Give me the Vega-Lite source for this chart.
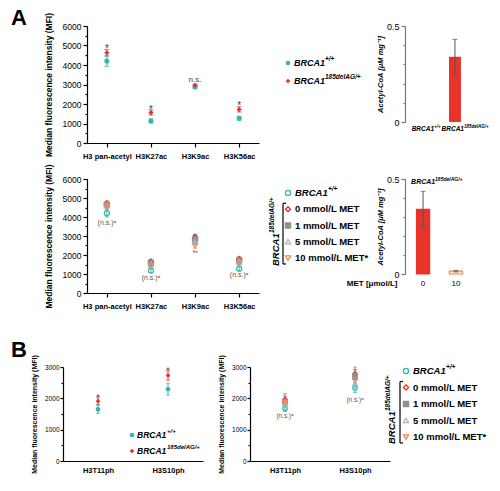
{
  "$schema": "https://vega.github.io/schema/vega-lite/v6.json",
  "background": "white",
  "autosize": {"type": "pad"},
  "padding": {"left": 11, "top": 7, "right": 2, "bottom": 2},
  "config": {
    "view": {"stroke": null},
    "font": "Liberation Sans",
    "axis": {"domainColor": "#000", "tickColor": "#000", "labelColor": "#000", "titleColor": "#000", "grid": false, "domainWidth": 1.2, "tickWidth": 1.2, "labelFont": "Liberation Sans", "titleFont": "Liberation Sans", "labelOverlap": false, "labelBound": false, "labelFlush": false},
    "title": {"font": "Liberation Sans", "color": "#000"},
    "text": {"font": "Liberation Sans"}
  },
  "datasets": {
    "a1": [
      {"mark": "H3 pan-acetyl", "group": "WT", "mfi": 4200, "lo": 3930, "hi": 4450},
      {"mark": "H3 pan-acetyl", "group": "mut", "mfi": 4630, "lo": 4470, "hi": 4800},
      {"mark": "H3K27ac", "group": "WT", "mfi": 1130, "lo": 1030, "hi": 1240},
      {"mark": "H3K27ac", "group": "mut", "mfi": 1560, "lo": 1430, "hi": 1700},
      {"mark": "H3K9ac", "group": "WT", "mfi": 2870, "lo": 2810, "hi": 2930},
      {"mark": "H3K9ac", "group": "mut", "mfi": 2960, "lo": 2900, "hi": 3020},
      {"mark": "H3K56ac", "group": "WT", "mfi": 1270, "lo": 1170, "hi": 1380},
      {"mark": "H3K56ac", "group": "mut", "mfi": 1720, "lo": 1590, "hi": 1860}
    ],
    "a1ann": [
      {"mark": "H3 pan-acetyl", "y": 5000, "text": "*"},
      {"mark": "H3K27ac", "y": 1850, "text": "*"},
      {"mark": "H3K9ac", "y": 3250, "text": "n.s."},
      {"mark": "H3K56ac", "y": 2050, "text": "*"}
    ],
    "a2": [
      {"mark": "H3 pan-acetyl", "group": "WT", "mfi": 4200, "lo": 4000, "hi": 4400},
      {"mark": "H3 pan-acetyl", "group": "0 mM", "mfi": 4700, "lo": 4560, "hi": 4850},
      {"mark": "H3 pan-acetyl", "group": "1 mM", "mfi": 4650, "lo": 4500, "hi": 4800},
      {"mark": "H3 pan-acetyl", "group": "5 mM", "mfi": 4600, "lo": 4450, "hi": 4750},
      {"mark": "H3 pan-acetyl", "group": "10 mM", "mfi": 4550, "lo": 4400, "hi": 4700},
      {"mark": "H3K27ac", "group": "WT", "mfi": 1180, "lo": 1080, "hi": 1280},
      {"mark": "H3K27ac", "group": "0 mM", "mfi": 1650, "lo": 1520, "hi": 1780},
      {"mark": "H3K27ac", "group": "1 mM", "mfi": 1580, "lo": 1460, "hi": 1700},
      {"mark": "H3K27ac", "group": "5 mM", "mfi": 1500, "lo": 1390, "hi": 1620},
      {"mark": "H3K27ac", "group": "10 mM", "mfi": 1430, "lo": 1320, "hi": 1540},
      {"mark": "H3K9ac", "group": "WT", "mfi": 2880, "lo": 2780, "hi": 2980},
      {"mark": "H3K9ac", "group": "0 mM", "mfi": 2960, "lo": 2860, "hi": 3060},
      {"mark": "H3K9ac", "group": "1 mM", "mfi": 2830, "lo": 2730, "hi": 2930},
      {"mark": "H3K9ac", "group": "5 mM", "mfi": 2700, "lo": 2600, "hi": 2800},
      {"mark": "H3K9ac", "group": "10 mM", "mfi": 2480, "lo": 2360, "hi": 2600},
      {"mark": "H3K56ac", "group": "WT", "mfi": 1280, "lo": 1180, "hi": 1380},
      {"mark": "H3K56ac", "group": "0 mM", "mfi": 1800, "lo": 1690, "hi": 1900},
      {"mark": "H3K56ac", "group": "1 mM", "mfi": 1720, "lo": 1610, "hi": 1830},
      {"mark": "H3K56ac", "group": "5 mM", "mfi": 1640, "lo": 1530, "hi": 1750},
      {"mark": "H3K56ac", "group": "10 mM", "mfi": 1560, "lo": 1450, "hi": 1670}
    ],
    "a2ann": [
      {"mark": "H3 pan-acetyl", "y": 3700, "text": "(n.s.)ᵃ"},
      {"mark": "H3K27ac", "y": 800, "text": "(n.s.)ᵃ"},
      {"mark": "H3K9ac", "y": 2100, "text": "*ᵃ"},
      {"mark": "H3K56ac", "y": 970, "text": "(n.s.)ᵃ"}
    ],
    "b1": [
      {"mark": "H3T11ph", "group": "WT", "mfi": 1650, "lo": 1520, "hi": 1790},
      {"mark": "H3T11ph", "group": "mut", "mfi": 1910, "lo": 1790, "hi": 2040},
      {"mark": "H3S10ph", "group": "WT", "mfi": 2290, "lo": 2100, "hi": 2480},
      {"mark": "H3S10ph", "group": "mut", "mfi": 2730, "lo": 2580, "hi": 2890}
    ],
    "b1ann": [
      {"mark": "H3T11ph", "y": 2150, "text": "*"},
      {"mark": "H3S10ph", "y": 3000, "text": "*"}
    ],
    "b2": [
      {"mark": "H3T11ph", "group": "WT", "mfi": 1680, "lo": 1580, "hi": 1780},
      {"mark": "H3T11ph", "group": "0 mM", "mfi": 1960, "lo": 1850, "hi": 2070},
      {"mark": "H3T11ph", "group": "1 mM", "mfi": 1900, "lo": 1780, "hi": 2150},
      {"mark": "H3T11ph", "group": "5 mM", "mfi": 1830, "lo": 1720, "hi": 1940},
      {"mark": "H3T11ph", "group": "10 mM", "mfi": 1870, "lo": 1760, "hi": 1980},
      {"mark": "H3S10ph", "group": "WT", "mfi": 2330, "lo": 2180, "hi": 2480},
      {"mark": "H3S10ph", "group": "0 mM", "mfi": 2780, "lo": 2640, "hi": 2920},
      {"mark": "H3S10ph", "group": "1 mM", "mfi": 2680, "lo": 2540, "hi": 3000},
      {"mark": "H3S10ph", "group": "5 mM", "mfi": 2480, "lo": 2340, "hi": 2620},
      {"mark": "H3S10ph", "group": "10 mM", "mfi": 2600, "lo": 2460, "hi": 2740}
    ],
    "b2ann": [
      {"mark": "H3T11ph", "y": 1440, "text": "(n.s.)ᵃ"},
      {"mark": "H3S10ph", "y": 1940, "text": "(n.s.)ᵃ"}
    ],
    "barA1": [
      {"genotype": "WT", "label": "BRCA1", "sup": "+/+", "value": 0},
      {"genotype": "mut", "label": "BRCA1", "sup": "185delAG/+", "value": 0.34, "lo": 0.25, "hi": 0.43}
    ],
    "barA2": [
      {"met": "0", "value": 0.34, "lo": 0.25, "hi": 0.435},
      {"met": "10", "value": 0.015, "lo": 0.011, "hi": 0.019}
    ],
    "legA1": [
      {"group": "WT", "label": "BRCA1", "sup": "+/+"},
      {"group": "mut", "label": "BRCA1", "sup": "185delAG/+"}
    ],
    "legMET": [
      {"group": "WT", "label": "BRCA1", "sup": "+/+"},
      {"group": "0 mM", "label": "0 mmol/L MET", "sup": ""},
      {"group": "1 mM", "label": "1 mmol/L MET", "sup": ""},
      {"group": "5 mM", "label": "5 mmol/L MET", "sup": ""},
      {"group": "10 mM", "label": "10 mmol/L MET*", "sup": ""}
    ]
  },
  "columns": 3,
  "align": "each",
  "bounds": "flush",
  "spacing": {"row": 36, "column": 0},
  "concat": [
    {
      "width": 196, "height": 117,
      "title": {"text": "A", "anchor": "start", "frame": "group", "dx": -52, "dy": 35, "offset": 0, "baseline": "alphabetic", "fontSize": 22, "fontWeight": "bold"},
      "data": {"name": "a1"},
      "encoding": {
        "x": {"field": "mark", "type": "nominal", "sort": ["H3 pan-acetyl", "H3K27ac", "H3K9ac", "H3K56ac"], "scale": {"type": "point", "padding": 0.45, "range": [24, 196]},
          "axis": {"title": null, "labelAngle": 0, "labelFontWeight": "bold", "labelFontSize": 7.5, "labelPadding": 5, "tickSize": 4}}
      },
      "layer": [
        {"mark": {"type": "errorbar", "ticks": {"size": 5}, "thickness": 1},
         "encoding": {
           "y": {"field": "lo", "type": "quantitative", "scale": {"domain": [0, 6000]}, "title": "Median fluorescence intensity (MFI)",
             "axis": {"offset": -24, "values": [0, 500, 1000, 1500, 2000, 2500, 3000, 3500, 4000, 4500, 5000, 5500, 6000], "format": "d", "labelExpr": "datum.value % 1000 === 0 ? datum.label : ''", "labelOverlap": false, "tickSize": {"condition": {"test": "datum.value % 1000 === 0", "value": 4}, "value": 2}, "labelFontSize": 8.5, "labelPadding": 2, "titleFontSize": 8.5, "titleFontWeight": "bold", "titlePadding": 9}},
           "y2": {"field": "hi"},
           "color": {"field": "group", "type": "nominal", "scale": {"domain": ["WT", "mut", "0 mM", "1 mM", "5 mM", "10 mM"], "range": ["#35b7ab", "#e8332b", "#e8332b", "#8f8f8f", "#a7b5c6", "#f3884e"]}, "legend": null}
         }},
        {"mark": {"type": "point", "filled": true, "size": 26, "opacity": 1},
         "encoding": {
           "y": {"field": "mfi", "type": "quantitative", "scale": {"domain": [0, 6000]}, "title": "Median fluorescence intensity (MFI)",
             "axis": {"offset": -24, "values": [0, 500, 1000, 1500, 2000, 2500, 3000, 3500, 4000, 4500, 5000, 5500, 6000], "format": "d", "labelExpr": "datum.value % 1000 === 0 ? datum.label : ''", "labelOverlap": false, "tickSize": {"condition": {"test": "datum.value % 1000 === 0", "value": 4}, "value": 2}, "labelFontSize": 8.5, "labelPadding": 2, "titleFontSize": 8.5, "titleFontWeight": "bold", "titlePadding": 9}},
           "color": {"field": "group", "type": "nominal", "scale": {"domain": ["WT", "mut", "0 mM", "1 mM", "5 mM", "10 mM"], "range": ["#35b7ab", "#e8332b", "#e8332b", "#8f8f8f", "#a7b5c6", "#f3884e"]}, "legend": null},
           "shape": {"field": "group", "type": "nominal", "scale": {"domain": ["WT", "mut", "0 mM", "1 mM", "5 mM", "10 mM"], "range": ["circle", "diamond", "diamond", "square", "triangle-up", "triangle-down"]}, "legend": null}
         }},
        {"data": {"name": "a1ann"}, "transform": [{"filter": "datum.text === '*'"}],
         "mark": {"type": "text", "fontSize": 10, "color": "#444", "baseline": "middle", "dy": 3},
         "encoding": {"y": {"field": "y", "type": "quantitative", "scale": {"domain": [0, 6000]}, "title": "Median fluorescence intensity (MFI)",
             "axis": {"offset": -24, "values": [0, 500, 1000, 1500, 2000, 2500, 3000, 3500, 4000, 4500, 5000, 5500, 6000], "format": "d", "labelExpr": "datum.value % 1000 === 0 ? datum.label : ''", "labelOverlap": false, "tickSize": {"condition": {"test": "datum.value % 1000 === 0", "value": 4}, "value": 2}, "labelFontSize": 8.5, "labelPadding": 2, "titleFontSize": 8.5, "titleFontWeight": "bold", "titlePadding": 9}}, "text": {"field": "text"}}},
        {"data": {"name": "a1ann"}, "transform": [{"filter": "datum.text !== '*'"}],
         "mark": {"type": "text", "fontSize": 8, "color": "#444", "baseline": "middle"},
         "encoding": {"y": {"field": "y", "type": "quantitative", "scale": {"domain": [0, 6000]}, "title": "Median fluorescence intensity (MFI)",
             "axis": {"offset": -24, "values": [0, 500, 1000, 1500, 2000, 2500, 3000, 3500, 4000, 4500, 5000, 5500, 6000], "format": "d", "labelExpr": "datum.value % 1000 === 0 ? datum.label : ''", "labelOverlap": false, "tickSize": {"condition": {"test": "datum.value % 1000 === 0", "value": 4}, "value": 2}, "labelFontSize": 8.5, "labelPadding": 2, "titleFontSize": 8.5, "titleFontWeight": "bold", "titlePadding": 9}}, "text": {"field": "text"}}}
      ]
    },
    {
      "width": 146, "height": 117,
      "data": {"name": "legA1"},
      "encoding": {
        "x": {"datum": 29, "type": "quantitative", "scale": {"domain": [0, 146], "nice": false, "zero": false}, "axis": null},
        "y": {"field": "group", "type": "nominal", "scale": {"type": "point", "domain": ["WT", "mut"], "range": [37, 55], "padding": 0}, "axis": null}
      },
      "layer": [
        {"mark": {"type": "point", "filled": true, "size": 22, "opacity": 1},
         "encoding": {
           "color": {"field": "group", "type": "nominal", "scale": {"domain": ["WT", "mut", "0 mM", "1 mM", "5 mM", "10 mM"], "range": ["#35b7ab", "#e8332b", "#e8332b", "#8f8f8f", "#a7b5c6", "#f3884e"]}, "legend": null},
           "shape": {"field": "group", "type": "nominal", "scale": {"domain": ["WT", "mut", "0 mM", "1 mM", "5 mM", "10 mM"], "range": ["circle", "diamond", "diamond", "square", "triangle-up", "triangle-down"]}, "legend": null}
         }},
        {"mark": {"type": "text", "align": "left", "baseline": "middle", "dx": 6, "fontSize": 9, "fontWeight": "bold", "fontStyle": "italic"}, "encoding": {"text": {"field": "label"}}},
        {"mark": {"type": "text", "align": "left", "baseline": "middle", "dx": 37, "dy": -4, "fontSize": 6.5, "fontWeight": "bold", "fontStyle": "italic"}, "encoding": {"text": {"field": "sup"}}}
      ]
    },
    {
      "width": 70, "height": 96,
      "data": {"name": "barA1"},
      "encoding": {"x": {"field": "genotype", "type": "nominal", "sort": ["WT", "mut"], "scale": {"type": "band", "paddingInner": 0.6, "paddingOuter": 0.47}, "axis": null}},
      "layer": [
        {"mark": {"type": "bar", "color": "#e8332b"},
         "encoding": {"y": {"field": "value", "type": "quantitative", "scale": {"domain": [0, 0.5]}, "title": "Acetyl-CoA [μM mg⁻¹]",
           "axis": {"values": [0, 0.1, 0.2, 0.3, 0.4, 0.5], "format": "~g", "labelExpr": "datum.value === 0 || datum.value === 0.5 ? datum.label : ''", "tickSize": {"condition": {"test": "datum.value === 0 || datum.value === 0.5", "value": 4}, "value": 2}, "domainColor": "#777", "tickColor": "#777", "labelFontSize": 9, "labelPadding": 2, "titleFontSize": 7.5, "titleFontStyle": "italic", "titleFontWeight": "bold", "titlePadding": 2}}}},
        {"transform": [{"filter": "isValid(datum.lo)"}],
         "mark": {"type": "errorbar", "ticks": {"size": 5}, "color": "#555"},
         "encoding": {"y": {"field": "lo", "type": "quantitative", "scale": {"domain": [0, 0.5]}, "title": "Acetyl-CoA [μM mg⁻¹]",
           "axis": {"values": [0, 0.1, 0.2, 0.3, 0.4, 0.5], "format": "~g", "labelExpr": "datum.value === 0 || datum.value === 0.5 ? datum.label : ''", "tickSize": {"condition": {"test": "datum.value === 0 || datum.value === 0.5", "value": 4}, "value": 2}, "domainColor": "#777", "tickColor": "#777", "labelFontSize": 9, "labelPadding": 2, "titleFontSize": 7.5, "titleFontStyle": "italic", "titleFontWeight": "bold", "titlePadding": 2}}, "y2": {"field": "hi"}}},
        {"mark": {"type": "text", "align": "right", "baseline": "middle", "dx": 9, "dy": 7, "fontSize": 6.5, "fontWeight": "bold", "fontStyle": "italic"},
         "encoding": {"y": {"datum": 0, "scale": {"domain": [0, 0.5]}, "title": "Acetyl-CoA [μM mg⁻¹]",
           "axis": {"values": [0, 0.1, 0.2, 0.3, 0.4, 0.5], "format": "~g", "labelExpr": "datum.value === 0 || datum.value === 0.5 ? datum.label : ''", "tickSize": {"condition": {"test": "datum.value === 0 || datum.value === 0.5", "value": 4}, "value": 2}, "domainColor": "#777", "tickColor": "#777", "labelFontSize": 9, "labelPadding": 2, "titleFontSize": 7.5, "titleFontStyle": "italic", "titleFontWeight": "bold", "titlePadding": 2}}, "text": {"field": "label"}}},
        {"mark": {"type": "text", "align": "left", "baseline": "middle", "dx": 9, "dy": 5, "fontSize": 4.5, "fontWeight": "bold", "fontStyle": "italic"},
         "encoding": {"y": {"datum": 0, "scale": {"domain": [0, 0.5]}, "title": "Acetyl-CoA [μM mg⁻¹]",
           "axis": {"values": [0, 0.1, 0.2, 0.3, 0.4, 0.5], "format": "~g", "labelExpr": "datum.value === 0 || datum.value === 0.5 ? datum.label : ''", "tickSize": {"condition": {"test": "datum.value === 0 || datum.value === 0.5", "value": 4}, "value": 2}, "domainColor": "#777", "tickColor": "#777", "labelFontSize": 9, "labelPadding": 2, "titleFontSize": 7.5, "titleFontStyle": "italic", "titleFontWeight": "bold", "titlePadding": 2}}, "text": {"field": "sup"}}}
      ]
    },
    {
      "width": 196, "height": 114,
      "data": {"name": "a2"},
      "encoding": {
        "x": {"field": "mark", "type": "nominal", "sort": ["H3 pan-acetyl", "H3K27ac", "H3K9ac", "H3K56ac"], "scale": {"type": "point", "padding": 0.45, "range": [24, 196]},
          "axis": {"title": null, "labelAngle": 0, "labelFontWeight": "bold", "labelFontSize": 7.5, "labelPadding": 5, "tickSize": 4}}
      },
      "layer": [
        {"mark": {"type": "errorbar", "ticks": {"size": 4}, "thickness": 1},
         "encoding": {
           "y": {"field": "lo", "type": "quantitative", "scale": {"domain": [0, 6000]}, "title": "Median fluorescence intensity (MFI)",
             "axis": {"offset": -24, "values": [0, 500, 1000, 1500, 2000, 2500, 3000, 3500, 4000, 4500, 5000, 5500, 6000], "format": "d", "labelExpr": "datum.value % 1000 === 0 ? datum.label : ''", "labelOverlap": false, "tickSize": {"condition": {"test": "datum.value % 1000 === 0", "value": 4}, "value": 2}, "labelFontSize": 8.5, "labelPadding": 2, "titleFontSize": 8.5, "titleFontWeight": "bold", "titlePadding": 9}},
           "y2": {"field": "hi"},
           "color": {"field": "group", "type": "nominal", "scale": {"domain": ["WT", "mut", "0 mM", "1 mM", "5 mM", "10 mM"], "range": ["#35b7ab", "#e8332b", "#e8332b", "#8f8f8f", "#a7b5c6", "#f3884e"]}, "legend": null}
         }},
        {"mark": {"type": "point", "filled": false, "size": 26, "strokeWidth": 1.2, "opacity": 1},
         "encoding": {
           "y": {"field": "mfi", "type": "quantitative", "scale": {"domain": [0, 6000]}, "title": "Median fluorescence intensity (MFI)",
             "axis": {"offset": -24, "values": [0, 500, 1000, 1500, 2000, 2500, 3000, 3500, 4000, 4500, 5000, 5500, 6000], "format": "d", "labelExpr": "datum.value % 1000 === 0 ? datum.label : ''", "labelOverlap": false, "tickSize": {"condition": {"test": "datum.value % 1000 === 0", "value": 4}, "value": 2}, "labelFontSize": 8.5, "labelPadding": 2, "titleFontSize": 8.5, "titleFontWeight": "bold", "titlePadding": 9}},
           "color": {"field": "group", "type": "nominal", "scale": {"domain": ["WT", "mut", "0 mM", "1 mM", "5 mM", "10 mM"], "range": ["#35b7ab", "#e8332b", "#e8332b", "#8f8f8f", "#a7b5c6", "#f3884e"]}, "legend": null},
           "shape": {"field": "group", "type": "nominal", "scale": {"domain": ["WT", "mut", "0 mM", "1 mM", "5 mM", "10 mM"], "range": ["circle", "diamond", "diamond", "square", "triangle-up", "triangle-down"]}, "legend": null},
           "fill": {"condition": {"test": "datum.group === '1 mM'", "value": "#8f8f8f"}, "value": "transparent"}
         }},
        {"data": {"name": "a2ann"},
         "mark": {"type": "text", "fontSize": 7, "color": "#555", "baseline": "middle"},
         "encoding": {"y": {"field": "y", "type": "quantitative", "scale": {"domain": [0, 6000]}, "title": "Median fluorescence intensity (MFI)",
             "axis": {"offset": -24, "values": [0, 500, 1000, 1500, 2000, 2500, 3000, 3500, 4000, 4500, 5000, 5500, 6000], "format": "d", "labelExpr": "datum.value % 1000 === 0 ? datum.label : ''", "labelOverlap": false, "tickSize": {"condition": {"test": "datum.value % 1000 === 0", "value": 4}, "value": 2}, "labelFontSize": 8.5, "labelPadding": 2, "titleFontSize": 8.5, "titleFontWeight": "bold", "titlePadding": 9}}, "text": {"field": "text"}}}
      ]
    },
    {
      "width": 146, "height": 152,
      "data": {"name": "legMET"},
      "encoding": {
        "x": {"datum": 29, "type": "quantitative", "scale": {"domain": [0, 146], "nice": false, "zero": false}, "axis": null},
        "y": {"field": "group", "type": "nominal", "scale": {"type": "point", "domain": ["WT", "0 mM", "1 mM", "5 mM", "10 mM"], "range": [14, 79], "padding": 0}, "axis": null}
      },
      "layer": [
        {"mark": {"type": "point", "filled": false, "size": 26, "strokeWidth": 1.3, "opacity": 1},
         "encoding": {
           "color": {"field": "group", "type": "nominal", "scale": {"domain": ["WT", "mut", "0 mM", "1 mM", "5 mM", "10 mM"], "range": ["#35b7ab", "#e8332b", "#e8332b", "#8f8f8f", "#a7b5c6", "#f3884e"]}, "legend": null},
           "shape": {"field": "group", "type": "nominal", "scale": {"domain": ["WT", "mut", "0 mM", "1 mM", "5 mM", "10 mM"], "range": ["circle", "diamond", "diamond", "square", "triangle-up", "triangle-down"]}, "legend": null},
           "fill": {"condition": {"test": "datum.group === '1 mM'", "value": "#8f8f8f"}, "value": "transparent"}
         }},
        {"transform": [{"filter": "datum.group === 'WT'"}],
         "mark": {"type": "text", "align": "left", "baseline": "middle", "dx": 7, "fontSize": 9.5, "fontWeight": "bold", "fontStyle": "italic"}, "encoding": {"text": {"field": "label"}}},
        {"transform": [{"filter": "datum.group === 'WT'"}],
         "mark": {"type": "text", "align": "left", "baseline": "middle", "dx": 40, "dy": -4, "fontSize": 6.5, "fontWeight": "bold", "fontStyle": "italic"}, "encoding": {"text": {"field": "sup"}}},
        {"transform": [{"filter": "datum.group !== 'WT'"}],
         "mark": {"type": "text", "align": "left", "baseline": "middle", "dx": 7, "fontSize": 9.5, "fontWeight": "bold"}, "encoding": {"text": {"field": "label"}}},
        {"data": {"values": [{}]},
         "mark": {"type": "rule", "yOffset": -6, "y2Offset": 6, "color": "#000", "strokeWidth": 1.2},
         "encoding": {"x": {"datum": 24, "type": "quantitative"}, "y": {"datum": "0 mM", "type": "nominal"}, "y2": {"datum": "10 mM"}}},
        {"data": {"values": [{}]},
         "mark": {"type": "rule", "yOffset": -6, "color": "#000", "strokeWidth": 1.2},
         "encoding": {"x": {"datum": 24, "type": "quantitative"}, "x2": {"datum": 27}, "y": {"datum": "0 mM", "type": "nominal"}}},
        {"data": {"values": [{}]},
         "mark": {"type": "rule", "yOffset": 6, "color": "#000", "strokeWidth": 1.2},
         "encoding": {"x": {"datum": 24, "type": "quantitative"}, "x2": {"datum": 27}, "y": {"datum": "10 mM", "type": "nominal"}}},
        {"data": {"values": [{}]},
         "mark": {"type": "text", "text": "BRCA1", "angle": 270, "align": "left", "baseline": "middle", "dx": -8, "fontSize": 9.5, "fontWeight": "bold", "fontStyle": "italic"},
         "encoding": {"x": {"datum": 17, "type": "quantitative"}, "y": {"datum": "10 mM", "type": "nominal"}}},
        {"data": {"values": [{}]},
         "mark": {"type": "text", "text": "185delAG/+", "angle": 270, "align": "left", "baseline": "middle", "dx": 25, "dy": -4, "fontSize": 6.5, "fontWeight": "bold", "fontStyle": "italic"},
         "encoding": {"x": {"datum": 17, "type": "quantitative"}, "y": {"datum": "10 mM", "type": "nominal"}}}
      ]
    },
    {
      "width": 69, "height": 95,
      "data": {"name": "barA2"},
      "encoding": {"x": {"field": "met", "type": "nominal", "sort": ["0", "10"], "scale": {"type": "band", "paddingInner": 0.6, "paddingOuter": 0.35},
        "axis": {"title": "MET [μmol/L]", "labelAngle": 0, "labelFontSize": 8, "labelPadding": 5, "ticks": false, "domain": false, "titleX": -8, "titleY": 9, "titleAlign": "right", "titleBaseline": "middle", "titleFontSize": 8, "titleFontWeight": "bold"}}},
      "layer": [
        {"mark": {"type": "bar", "strokeWidth": 1.2},
         "encoding": {
           "y": {"field": "value", "type": "quantitative", "scale": {"domain": [0, 0.5]}, "title": "Acetyl-CoA [μM mg⁻¹]",
             "axis": {"values": [0, 0.1, 0.2, 0.3, 0.4, 0.5], "format": "~g", "labelExpr": "datum.value === 0 || datum.value === 0.5 ? datum.label : ''", "tickSize": {"condition": {"test": "datum.value === 0 || datum.value === 0.5", "value": 4}, "value": 2}, "domainColor": "#777", "tickColor": "#777", "labelFontSize": 9, "labelPadding": 2, "titleFontSize": 7.5, "titleFontStyle": "italic", "titleFontWeight": "bold", "titlePadding": 2}},
           "fill": {"field": "met", "type": "nominal", "scale": {"domain": ["0", "10"], "range": ["#e8332b", "#fde4d4"]}, "legend": null},
           "stroke": {"field": "met", "type": "nominal", "scale": {"domain": ["0", "10"], "range": ["#e8332b", "#f3884e"]}, "legend": null}
         }},
        {"mark": {"type": "errorbar", "ticks": {"size": 5}, "color": "#555"},
         "encoding": {"y": {"field": "lo", "type": "quantitative", "scale": {"domain": [0, 0.5]}, "title": "Acetyl-CoA [μM mg⁻¹]",
             "axis": {"values": [0, 0.1, 0.2, 0.3, 0.4, 0.5], "format": "~g", "labelExpr": "datum.value === 0 || datum.value === 0.5 ? datum.label : ''", "tickSize": {"condition": {"test": "datum.value === 0 || datum.value === 0.5", "value": 4}, "value": 2}, "domainColor": "#777", "tickColor": "#777", "labelFontSize": 9, "labelPadding": 2, "titleFontSize": 7.5, "titleFontStyle": "italic", "titleFontWeight": "bold", "titlePadding": 2}}, "y2": {"field": "hi"}}},
        {"data": {"values": [{}]},
         "mark": {"type": "text", "text": "BRCA1", "align": "left", "baseline": "middle", "dx": -12, "dy": 3, "fontSize": 7, "fontWeight": "bold", "fontStyle": "italic"},
         "encoding": {"x": {"datum": "0"}, "y": {"datum": 0.5, "scale": {"domain": [0, 0.5]}, "title": "Acetyl-CoA [μM mg⁻¹]",
             "axis": {"values": [0, 0.1, 0.2, 0.3, 0.4, 0.5], "format": "~g", "labelExpr": "datum.value === 0 || datum.value === 0.5 ? datum.label : ''", "tickSize": {"condition": {"test": "datum.value === 0 || datum.value === 0.5", "value": 4}, "value": 2}, "domainColor": "#777", "tickColor": "#777", "labelFontSize": 9, "labelPadding": 2, "titleFontSize": 7.5, "titleFontStyle": "italic", "titleFontWeight": "bold", "titlePadding": 2}}}},
        {"data": {"values": [{}]},
         "mark": {"type": "text", "text": "185delAG/+", "align": "left", "baseline": "middle", "dx": 12, "dy": 0, "fontSize": 5, "fontWeight": "bold", "fontStyle": "italic"},
         "encoding": {"x": {"datum": "0"}, "y": {"datum": 0.5, "scale": {"domain": [0, 0.5]}, "title": "Acetyl-CoA [μM mg⁻¹]",
             "axis": {"values": [0, 0.1, 0.2, 0.3, 0.4, 0.5], "format": "~g", "labelExpr": "datum.value === 0 || datum.value === 0.5 ? datum.label : ''", "tickSize": {"condition": {"test": "datum.value === 0 || datum.value === 0.5", "value": 4}, "value": 2}, "domainColor": "#777", "tickColor": "#777", "labelFontSize": 9, "labelPadding": 2, "titleFontSize": 7.5, "titleFontStyle": "italic", "titleFontWeight": "bold", "titlePadding": 2}}}}
      ]
    },
    {
      "width": 196, "height": 94,
      "title": {"text": "B", "anchor": "start", "frame": "group", "dx": -52, "dy": 35, "offset": 11, "baseline": "alphabetic", "fontSize": 22, "fontWeight": "bold"},
      "data": {"name": "b1"},
      "encoding": {
        "x": {"field": "mark", "type": "nominal", "sort": ["H3T11ph", "H3S10ph"], "scale": {"type": "point", "padding": 0.5, "range": [0, 140]},
          "axis": {"title": null, "labelAngle": 0, "labelFontWeight": "bold", "labelFontSize": 7.5, "labelPadding": 5, "ticks": false}}
      },
      "layer": [
        {"mark": {"type": "errorbar", "ticks": {"size": 4}, "thickness": 1},
         "encoding": {
           "y": {"field": "lo", "type": "quantitative", "scale": {"domain": [0, 3000]}, "title": "Median fluorescence intensity (MFI)",
             "axis": {"values": [0, 500, 1000, 1500, 2000, 2500, 3000], "format": "d", "labelExpr": "datum.value % 1000 === 0 ? datum.label : ''", "labelOverlap": false, "tickSize": {"condition": {"test": "datum.value % 1000 === 0", "value": 3}, "value": 2}, "labelFontSize": 6.5, "labelPadding": 1, "titleFontSize": 7, "titleFontWeight": "bold", "titlePadding": 7}},
           "y2": {"field": "hi"},
           "color": {"field": "group", "type": "nominal", "scale": {"domain": ["WT", "mut", "0 mM", "1 mM", "5 mM", "10 mM"], "range": ["#35b7ab", "#e8332b", "#e8332b", "#8f8f8f", "#a7b5c6", "#f3884e"]}, "legend": null}
         }},
        {"mark": {"type": "point", "filled": true, "size": 22, "opacity": 1},
         "encoding": {
           "y": {"field": "mfi", "type": "quantitative", "scale": {"domain": [0, 3000]}, "title": "Median fluorescence intensity (MFI)",
             "axis": {"values": [0, 500, 1000, 1500, 2000, 2500, 3000], "format": "d", "labelExpr": "datum.value % 1000 === 0 ? datum.label : ''", "labelOverlap": false, "tickSize": {"condition": {"test": "datum.value % 1000 === 0", "value": 3}, "value": 2}, "labelFontSize": 6.5, "labelPadding": 1, "titleFontSize": 7, "titleFontWeight": "bold", "titlePadding": 7}},
           "color": {"field": "group", "type": "nominal", "scale": {"domain": ["WT", "mut", "0 mM", "1 mM", "5 mM", "10 mM"], "range": ["#35b7ab", "#e8332b", "#e8332b", "#8f8f8f", "#a7b5c6", "#f3884e"]}, "legend": null},
           "shape": {"field": "group", "type": "nominal", "scale": {"domain": ["WT", "mut", "0 mM", "1 mM", "5 mM", "10 mM"], "range": ["circle", "diamond", "diamond", "square", "triangle-up", "triangle-down"]}, "legend": null}
         }},
        {"data": {"name": "b1ann"},
         "mark": {"type": "text", "fontSize": 9, "color": "#444", "baseline": "middle", "dy": 3},
         "encoding": {"y": {"field": "y", "type": "quantitative", "scale": {"domain": [0, 3000]}, "title": "Median fluorescence intensity (MFI)",
             "axis": {"values": [0, 500, 1000, 1500, 2000, 2500, 3000], "format": "d", "labelExpr": "datum.value % 1000 === 0 ? datum.label : ''", "labelOverlap": false, "tickSize": {"condition": {"test": "datum.value % 1000 === 0", "value": 3}, "value": 2}, "labelFontSize": 6.5, "labelPadding": 1, "titleFontSize": 7, "titleFontWeight": "bold", "titlePadding": 7}}, "text": {"field": "text"}}},
        {"data": {"name": "legA1"}, "transform": [{"filter": "datum.group === 'WT'"}],
         "mark": {"type": "point", "filled": true, "size": 22, "opacity": 1, "xOffset": 34},
         "encoding": {"x": {"datum": "H3T11ph"},
           "y": {"datum": 830, "scale": {"domain": [0, 3000]}, "title": "Median fluorescence intensity (MFI)",
             "axis": {"values": [0, 500, 1000, 1500, 2000, 2500, 3000], "format": "d", "labelExpr": "datum.value % 1000 === 0 ? datum.label : ''", "labelOverlap": false, "tickSize": {"condition": {"test": "datum.value % 1000 === 0", "value": 3}, "value": 2}, "labelFontSize": 6.5, "labelPadding": 1, "titleFontSize": 7, "titleFontWeight": "bold", "titlePadding": 7}},
           "color": {"field": "group", "type": "nominal", "scale": {"domain": ["WT", "mut", "0 mM", "1 mM", "5 mM", "10 mM"], "range": ["#35b7ab", "#e8332b", "#e8332b", "#8f8f8f", "#a7b5c6", "#f3884e"]}, "legend": null},
           "shape": {"field": "group", "type": "nominal", "scale": {"domain": ["WT", "mut", "0 mM", "1 mM", "5 mM", "10 mM"], "range": ["circle", "diamond", "diamond", "square", "triangle-up", "triangle-down"]}, "legend": null}}},
        {"data": {"name": "legA1"}, "transform": [{"filter": "datum.group === 'mut'"}],
         "mark": {"type": "point", "filled": true, "size": 22, "opacity": 1, "xOffset": 34},
         "encoding": {"x": {"datum": "H3T11ph"},
           "y": {"datum": 320, "scale": {"domain": [0, 3000]}, "title": "Median fluorescence intensity (MFI)",
             "axis": {"values": [0, 500, 1000, 1500, 2000, 2500, 3000], "format": "d", "labelExpr": "datum.value % 1000 === 0 ? datum.label : ''", "labelOverlap": false, "tickSize": {"condition": {"test": "datum.value % 1000 === 0", "value": 3}, "value": 2}, "labelFontSize": 6.5, "labelPadding": 1, "titleFontSize": 7, "titleFontWeight": "bold", "titlePadding": 7}},
           "color": {"field": "group", "type": "nominal", "scale": {"domain": ["WT", "mut", "0 mM", "1 mM", "5 mM", "10 mM"], "range": ["#35b7ab", "#e8332b", "#e8332b", "#8f8f8f", "#a7b5c6", "#f3884e"]}, "legend": null},
           "shape": {"field": "group", "type": "nominal", "scale": {"domain": ["WT", "mut", "0 mM", "1 mM", "5 mM", "10 mM"], "range": ["circle", "diamond", "diamond", "square", "triangle-up", "triangle-down"]}, "legend": null}}},
        {"data": {"name": "legA1"}, "transform": [{"filter": "datum.group === 'WT'"}],
         "mark": {"type": "text", "align": "left", "baseline": "middle", "dx": 39, "fontSize": 8.5, "fontWeight": "bold", "fontStyle": "italic"},
         "encoding": {"x": {"datum": "H3T11ph"},
           "y": {"datum": 830, "scale": {"domain": [0, 3000]}, "title": "Median fluorescence intensity (MFI)",
             "axis": {"values": [0, 500, 1000, 1500, 2000, 2500, 3000], "format": "d", "labelExpr": "datum.value % 1000 === 0 ? datum.label : ''", "labelOverlap": false, "tickSize": {"condition": {"test": "datum.value % 1000 === 0", "value": 3}, "value": 2}, "labelFontSize": 6.5, "labelPadding": 1, "titleFontSize": 7, "titleFontWeight": "bold", "titlePadding": 7}},
           "text": {"field": "label"}}},
        {"data": {"name": "legA1"}, "transform": [{"filter": "datum.group === 'mut'"}],
         "mark": {"type": "text", "align": "left", "baseline": "middle", "dx": 39, "fontSize": 8.5, "fontWeight": "bold", "fontStyle": "italic"},
         "encoding": {"x": {"datum": "H3T11ph"},
           "y": {"datum": 320, "scale": {"domain": [0, 3000]}, "title": "Median fluorescence intensity (MFI)",
             "axis": {"values": [0, 500, 1000, 1500, 2000, 2500, 3000], "format": "d", "labelExpr": "datum.value % 1000 === 0 ? datum.label : ''", "labelOverlap": false, "tickSize": {"condition": {"test": "datum.value % 1000 === 0", "value": 3}, "value": 2}, "labelFontSize": 6.5, "labelPadding": 1, "titleFontSize": 7, "titleFontWeight": "bold", "titlePadding": 7}},
           "text": {"field": "label"}}},
        {"data": {"name": "legA1"}, "transform": [{"filter": "datum.group === 'WT'"}],
         "mark": {"type": "text", "align": "left", "baseline": "middle", "dx": 69, "dy": -3.5, "fontSize": 6, "fontWeight": "bold", "fontStyle": "italic"},
         "encoding": {"x": {"datum": "H3T11ph"},
           "y": {"datum": 830, "scale": {"domain": [0, 3000]}, "title": "Median fluorescence intensity (MFI)",
             "axis": {"values": [0, 500, 1000, 1500, 2000, 2500, 3000], "format": "d", "labelExpr": "datum.value % 1000 === 0 ? datum.label : ''", "labelOverlap": false, "tickSize": {"condition": {"test": "datum.value % 1000 === 0", "value": 3}, "value": 2}, "labelFontSize": 6.5, "labelPadding": 1, "titleFontSize": 7, "titleFontWeight": "bold", "titlePadding": 7}},
           "text": {"field": "sup"}}},
        {"data": {"name": "legA1"}, "transform": [{"filter": "datum.group === 'mut'"}],
         "mark": {"type": "text", "align": "left", "baseline": "middle", "dx": 69, "dy": -3.5, "fontSize": 6, "fontWeight": "bold", "fontStyle": "italic"},
         "encoding": {"x": {"datum": "H3T11ph"},
           "y": {"datum": 320, "scale": {"domain": [0, 3000]}, "title": "Median fluorescence intensity (MFI)",
             "axis": {"values": [0, 500, 1000, 1500, 2000, 2500, 3000], "format": "d", "labelExpr": "datum.value % 1000 === 0 ? datum.label : ''", "labelOverlap": false, "tickSize": {"condition": {"test": "datum.value % 1000 === 0", "value": 3}, "value": 2}, "labelFontSize": 6.5, "labelPadding": 1, "titleFontSize": 7, "titleFontWeight": "bold", "titlePadding": 7}},
           "text": {"field": "sup"}}}
      ]
    },
    {
      "width": 146, "height": 94,
      "data": {"name": "b2"},
      "encoding": {
        "x": {"field": "mark", "type": "nominal", "sort": ["H3T11ph", "H3S10ph"], "scale": {"type": "point", "padding": 0.5, "range": [-9, 131]},
          "axis": {"title": null, "labelAngle": 0, "labelFontWeight": "bold", "labelFontSize": 7.5, "labelPadding": 5, "ticks": false}}
      },
      "layer": [
        {"mark": {"type": "errorbar", "ticks": {"size": 4}, "thickness": 1},
         "encoding": {
           "y": {"field": "lo", "type": "quantitative", "scale": {"domain": [0, 3000]}, "title": "Median fluorescence intensity (MFI)",
             "axis": {"offset": 9, "values": [0, 500, 1000, 1500, 2000, 2500, 3000], "format": "d", "labelExpr": "datum.value % 1000 === 0 ? datum.label : ''", "labelOverlap": false, "tickSize": {"condition": {"test": "datum.value % 1000 === 0", "value": 3}, "value": 2}, "labelFontSize": 6.5, "labelPadding": 1, "titleFontSize": 7, "titleFontWeight": "bold", "titlePadding": 7}},
           "y2": {"field": "hi"},
           "color": {"field": "group", "type": "nominal", "scale": {"domain": ["WT", "mut", "0 mM", "1 mM", "5 mM", "10 mM"], "range": ["#35b7ab", "#e8332b", "#e8332b", "#8f8f8f", "#a7b5c6", "#f3884e"]}, "legend": null}
         }},
        {"mark": {"type": "point", "filled": false, "size": 22, "strokeWidth": 1.2, "opacity": 1},
         "encoding": {
           "y": {"field": "mfi", "type": "quantitative", "scale": {"domain": [0, 3000]}, "title": "Median fluorescence intensity (MFI)",
             "axis": {"offset": 9, "values": [0, 500, 1000, 1500, 2000, 2500, 3000], "format": "d", "labelExpr": "datum.value % 1000 === 0 ? datum.label : ''", "labelOverlap": false, "tickSize": {"condition": {"test": "datum.value % 1000 === 0", "value": 3}, "value": 2}, "labelFontSize": 6.5, "labelPadding": 1, "titleFontSize": 7, "titleFontWeight": "bold", "titlePadding": 7}},
           "color": {"field": "group", "type": "nominal", "scale": {"domain": ["WT", "mut", "0 mM", "1 mM", "5 mM", "10 mM"], "range": ["#35b7ab", "#e8332b", "#e8332b", "#8f8f8f", "#a7b5c6", "#f3884e"]}, "legend": null},
           "shape": {"field": "group", "type": "nominal", "scale": {"domain": ["WT", "mut", "0 mM", "1 mM", "5 mM", "10 mM"], "range": ["circle", "diamond", "diamond", "square", "triangle-up", "triangle-down"]}, "legend": null},
           "fill": {"condition": {"test": "datum.group === '1 mM'", "value": "#8f8f8f"}, "value": "transparent"}
         }},
        {"data": {"name": "b2ann"},
         "mark": {"type": "text", "fontSize": 6.5, "color": "#555", "baseline": "middle"},
         "encoding": {"y": {"field": "y", "type": "quantitative", "scale": {"domain": [0, 3000]}, "title": "Median fluorescence intensity (MFI)",
             "axis": {"offset": 9, "values": [0, 500, 1000, 1500, 2000, 2500, 3000], "format": "d", "labelExpr": "datum.value % 1000 === 0 ? datum.label : ''", "labelOverlap": false, "tickSize": {"condition": {"test": "datum.value % 1000 === 0", "value": 3}, "value": 2}, "labelFontSize": 6.5, "labelPadding": 1, "titleFontSize": 7, "titleFontWeight": "bold", "titlePadding": 7}}, "text": {"field": "text"}}}
      ]
    },
    {
      "width": 95, "height": 94,
      "data": {"name": "legMET"},
      "encoding": {
        "x": {"datum": 1, "type": "quantitative", "scale": {"domain": [0, 95], "nice": false, "zero": false}, "axis": null},
        "y": {"field": "group", "type": "nominal", "scale": {"type": "point", "domain": ["WT", "0 mM", "1 mM", "5 mM", "10 mM"], "range": [4, 70], "padding": 0}, "axis": null}
      },
      "layer": [
        {"mark": {"type": "point", "filled": false, "size": 26, "strokeWidth": 1.3, "opacity": 1},
         "encoding": {
           "color": {"field": "group", "type": "nominal", "scale": {"domain": ["WT", "mut", "0 mM", "1 mM", "5 mM", "10 mM"], "range": ["#35b7ab", "#e8332b", "#e8332b", "#8f8f8f", "#a7b5c6", "#f3884e"]}, "legend": null},
           "shape": {"field": "group", "type": "nominal", "scale": {"domain": ["WT", "mut", "0 mM", "1 mM", "5 mM", "10 mM"], "range": ["circle", "diamond", "diamond", "square", "triangle-up", "triangle-down"]}, "legend": null},
           "fill": {"condition": {"test": "datum.group === '1 mM'", "value": "#8f8f8f"}, "value": "transparent"}
         }},
        {"transform": [{"filter": "datum.group === 'WT'"}],
         "mark": {"type": "text", "align": "left", "baseline": "middle", "dx": 7, "fontSize": 9.5, "fontWeight": "bold", "fontStyle": "italic"}, "encoding": {"text": {"field": "label"}}},
        {"transform": [{"filter": "datum.group === 'WT'"}],
         "mark": {"type": "text", "align": "left", "baseline": "middle", "dx": 40, "dy": -4, "fontSize": 6.5, "fontWeight": "bold", "fontStyle": "italic"}, "encoding": {"text": {"field": "sup"}}},
        {"transform": [{"filter": "datum.group !== 'WT'"}],
         "mark": {"type": "text", "align": "left", "baseline": "middle", "dx": 7, "fontSize": 9.5, "fontWeight": "bold"}, "encoding": {"text": {"field": "label"}}},
        {"data": {"values": [{}]},
         "mark": {"type": "rule", "yOffset": -6, "y2Offset": 6, "color": "#000", "strokeWidth": 1.2},
         "encoding": {"x": {"datum": -5, "type": "quantitative"}, "y": {"datum": "0 mM", "type": "nominal"}, "y2": {"datum": "10 mM"}}},
        {"data": {"values": [{}]},
         "mark": {"type": "rule", "yOffset": -6, "color": "#000", "strokeWidth": 1.2},
         "encoding": {"x": {"datum": -5, "type": "quantitative"}, "x2": {"datum": -2}, "y": {"datum": "0 mM", "type": "nominal"}}},
        {"data": {"values": [{}]},
         "mark": {"type": "rule", "yOffset": 6, "color": "#000", "strokeWidth": 1.2},
         "encoding": {"x": {"datum": -5, "type": "quantitative"}, "x2": {"datum": -2}, "y": {"datum": "10 mM", "type": "nominal"}}},
        {"data": {"values": [{}]},
         "mark": {"type": "text", "text": "BRCA1", "angle": 270, "align": "left", "baseline": "middle", "dx": -7, "fontSize": 9.5, "fontWeight": "bold", "fontStyle": "italic"},
         "encoding": {"x": {"datum": -13, "type": "quantitative"}, "y": {"datum": "10 mM", "type": "nominal"}}},
        {"data": {"values": [{}]},
         "mark": {"type": "text", "text": "185delAG/+", "angle": 270, "align": "left", "baseline": "middle", "dx": 26, "dy": -4, "fontSize": 6.5, "fontWeight": "bold", "fontStyle": "italic"},
         "encoding": {"x": {"datum": -13, "type": "quantitative"}, "y": {"datum": "10 mM", "type": "nominal"}}}
      ]
    }
  ]
}
